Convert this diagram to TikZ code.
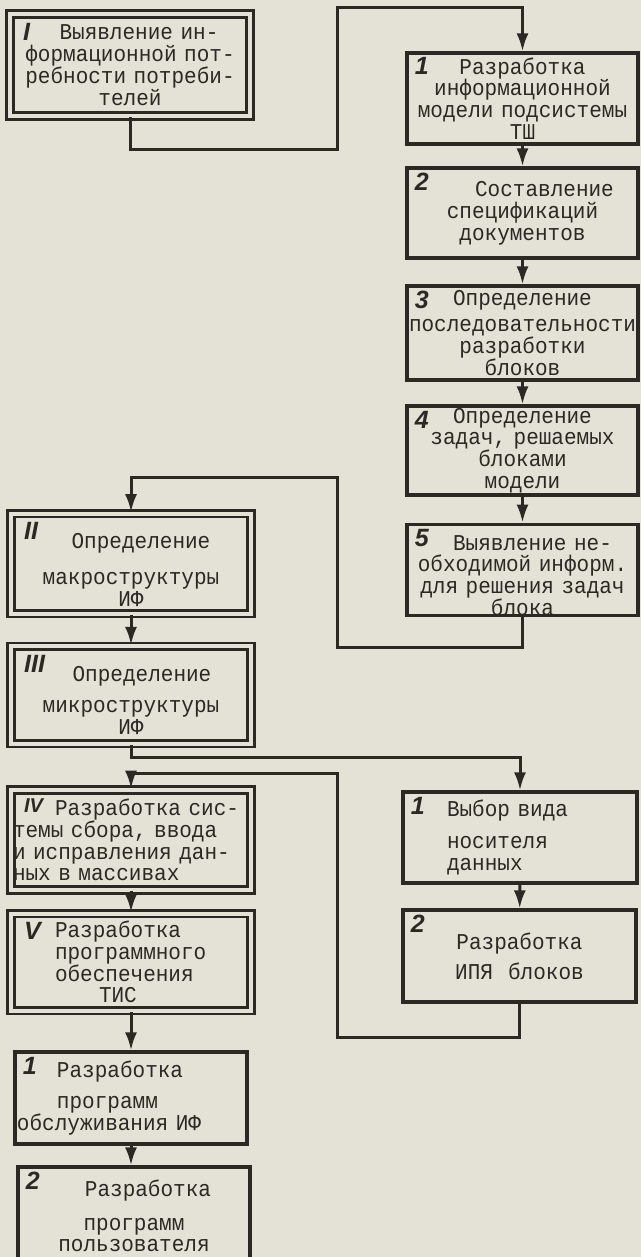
\documentclass[tikz,border=0pt]{standalone}
\usepackage{fontspec}
\setmainfont{Liberation Mono}[FakeStretch=0.93]
\newfontfamily\handfont{Liberation Sans}
\usepackage{xcolor}
\usepackage{tikz}
\usetikzlibrary{arrows.meta}
\definecolor{paper}{RGB}{228,226,214}
\definecolor{ink}{RGB}{44,40,36}

\begin{document}
\begin{tikzpicture}[x=0.5pt,y=-0.5pt,color=ink,
	>={Latex[length=9pt,width=6pt]},
	blk/.style={draw,line width=1.6pt,inner xsep=1pt,inner ysep=0pt,align=center,font=\fontsize{11.3}{10.9}\selectfont},
	dbl/.style={blk,line width=1.3pt,double=paper,double distance=2pt},
	lcol/.style={text width=118pt},
	rcol/.style={text width=113.5pt},
	nrlab/.style={anchor=north west,inner sep=0pt,font=\handfont\bfseries\itshape\fontsize{12.5}{12.5}\selectfont},
	nr/.style={label={[nrlab,xshift=4.5pt,yshift=-3pt]north west:#1}},
	nrd/.style={label={[nrlab,xshift=7pt,yshift=-5pt]north west:#1}},
	link/.style={line width=1.5pt}]
		\fill[paper] (0,0) rectangle (641,1257);
		\useasboundingbox (0,0) rectangle (641,1257);
		% left column
		\node[dbl,lcol,nrd={I},minimum height=51pt] (I) at (130,65) {\hspace*{9pt}Выявление ин-\\формационной пот-\\ребности потреби-\\телей};
		\node[dbl,lcol,nrd={II},minimum height=50pt] (II) at (131,563.5) {\rule{0pt}{14pt}\hspace*{10pt}Определение\\[7pt]макроструктуры\\ИФ};
		\node[dbl,lcol,nrd={III},minimum height=48.75pt] (III) at (131,695) {\rule{0pt}{13pt}\hspace*{11pt}Определение\\[5pt]микроструктуры\\ИФ};
		\node[dbl,lcol,nrd={\fontsize{10}{10}\selectfont IV},align=left,minimum height=50pt] (IV) at (131,840) {\hspace*{21pt}Разработка сис-\\темы сбора, ввода\\и исправления дан-\\ных в массивах};
		\node[dbl,lcol,nrd={V},align=left,minimum height=48.5pt] (V) at (131,962) {\hspace*{21pt}Разработка\\\hspace*{21pt}программного\\\hspace*{21pt}обеспечения\\\hspace*{43pt}ТИС};
		\node[blk,text width=114pt,nr={1},align=left,minimum height=46pt] (L1) at (131,1098) {\hspace*{20pt}Разработка\\[5pt]\hspace*{20pt}программ\\обслуживания ИФ};
		\node[blk,text width=114pt,nr={2},minimum height=49pt] (L2) at (134,1216) {\hspace*{14pt}Разработка\\[6pt]программ\\пользователя};
		% right column
		\node[blk,rcol,nr={1},minimum height=45.5pt] (R1) at (522.5,98.5) {Разработка\\информационной\\модели подсистемы\\ТШ};
		\node[blk,rcol,nr={2},minimum height=45pt] (R2) at (522.5,213) {\hspace*{22pt}Составление\\спецификаций\\документов};
		\node[blk,rcol,nr={3},minimum height=47pt] (R3) at (522.5,333) {Определение\\[2pt]последовательности\\разработки\\блоков};
		\node[blk,rcol,nr={4},minimum height=44.5pt] (R4) at (522.5,450.5) {Определение\\задач, решаемых\\блоками\\модели};
		\node[blk,rcol,nr={5},minimum height=45pt] (R5) at (522.5,570) {\rule{0pt}{13pt}\hspace*{10pt}Выявление не-\\обходимой информ.\\для решения задач\\блока};
		\node[blk,text width=115pt,nr={1},align=left,minimum height=45.5pt] (S1) at (520,837.5) {\hspace*{21pt}Выбор вида\\[5pt]\hspace*{21pt}носителя\\\hspace*{21pt}данных};
		\node[blk,text width=114.5pt,nr={2},minimum height=46pt] (S2) at (519.5,956) {Разработка\\[4pt]ИПЯ\ \ блоков};
		%
		\draw[link,->] (I.south) |- (337,150) |- (R1.north |- 0,8) -- (R1.north);
		\draw[link,->] (R1) -- (R2);
		\draw[link,->] (R2) -- (R3);
		\draw[link,->] (R3) -- (R4);
		\draw[link,->] (R4) -- (R5);
		\draw[link,->] (R5.south) |- (337,647) |- (II.north |- 0,477) -- (II.north);
		\draw[link,->] (II) -- (III);
		\draw[link,->] (III.south) |- (S1.north |- 0,757) -- (S1.north);
		\draw[link,->] (S1) -- (S2);
		\draw[link,->] (S2.south) |- (337,1037) |- (IV.north |- 0,773) -- (IV.north);
		\draw[link,->] (IV) -- (V);
		\draw[link,->] (V) -- (L1);
		\draw[link,->] (L1.south) -- (L1.south |- L2.north);
\end{tikzpicture}
\end{document}
